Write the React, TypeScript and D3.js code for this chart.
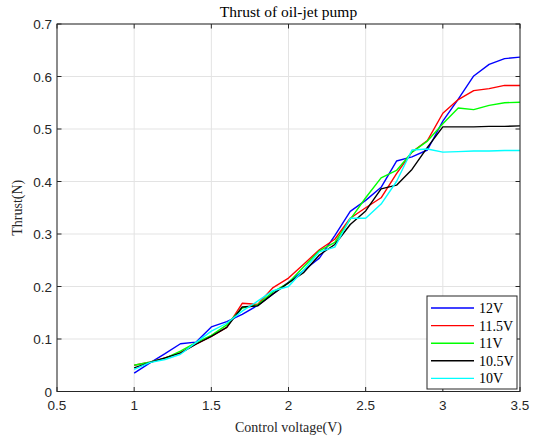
import React from "react";
import * as d3 from "d3";

const xValues = [1.0,1.1,1.2,1.3,1.4,1.5,1.6,1.7,1.8,1.9,2.0,2.1,2.2,2.3,2.4,2.5,2.6,2.7,2.8,2.9,3.0,3.1,3.2,3.3,3.4,3.5];
const seriesNames = ["12V", "11.5V", "11V", "10.5V", "10V"];
const seriesColors = ["#0000ff", "#ff0000", "#00ff00", "#000000", "#00ffff"];
const v12 = [0.035,0.054,0.072,0.091,0.094,0.123,0.133,0.147,0.164,0.186,0.208,0.231,0.254,0.297,0.343,0.364,0.389,0.439,0.447,0.46,0.515,0.557,0.601,0.623,0.634,0.637];
const v115 = [0.05,0.056,0.064,0.074,0.09,0.105,0.122,0.168,0.166,0.198,0.216,0.243,0.27,0.29,0.33,0.35,0.369,0.415,0.456,0.478,0.53,0.556,0.573,0.577,0.583,0.583];
const v11 = [0.05,0.056,0.063,0.077,0.093,0.107,0.127,0.159,0.165,0.19,0.207,0.238,0.268,0.284,0.328,0.369,0.407,0.421,0.456,0.477,0.51,0.54,0.537,0.545,0.55,0.551];
const v105 = [0.045,0.055,0.064,0.073,0.09,0.105,0.122,0.161,0.163,0.186,0.207,0.227,0.26,0.28,0.318,0.344,0.386,0.393,0.423,0.465,0.504,0.504,0.504,0.505,0.505,0.506];
const v10 = [0.042,0.055,0.061,0.071,0.093,0.115,0.13,0.153,0.172,0.192,0.2,0.232,0.266,0.275,0.33,0.33,0.357,0.40,0.46,0.462,0.456,0.457,0.458,0.458,0.459,0.459];
const seriesValues = [v12, v115, v11, v105, v10];
const xTicks = [0.5, 1, 1.5, 2, 2.5, 3, 3.5];
const yTicks = [0, 0.1, 0.2, 0.3, 0.4, 0.5, 0.6, 0.7];
const title = "Thrust of oil-jet pump";
const xLabel = "Control voltage(V)";
const yLabel = "Thrust(N)";

export default function App() {
  const W = 534, H = 437;
  const L = 57, R = 520, T = 24, B = 391.5;
  const x = d3.scaleLinear().domain([0.5, 3.5]).range([L, R]);
  const y = d3.scaleLinear().domain([0, 0.7]).range([B, T]);
  const line = d3.line<number>().x((_, i) => x(xValues[i])).y((d) => y(d));
  const tickColor = "#262626";
  const serif = "'Liberation Serif', 'Times New Roman', serif";
  const sans = "'Liberation Sans', Arial, sans-serif";
  const tl = 4.5;
  const legX = 427, legY = 296, legW = 90, legH = 93;
  return (
    <svg width={W} height={H} style={{ position: "absolute", left: 0, top: 0, background: "#fff" }}>
      <rect x={0} y={0} width={W} height={H} fill="#fff" />
      {xTicks.map((t, i) => (
        <line key={"gx" + i} x1={x(t)} x2={x(t)} y1={T} y2={B} stroke="#e3e3e3" strokeWidth={1} />
      ))}
      {yTicks.map((t, i) => (
        <line key={"gy" + i} x1={L} x2={R} y1={y(t)} y2={y(t)} stroke="#e3e3e3" strokeWidth={1} />
      ))}
      {seriesValues.map((vals, i) => (
        <path key={"s" + i} d={line(vals) || ""} fill="none" stroke={seriesColors[i]} strokeWidth={1.4} strokeLinejoin="round" />
      ))}
      <rect x={L} y={T} width={R - L} height={B - T} fill="none" stroke={tickColor} strokeWidth={1} />
      {xTicks.map((t, i) => (
        <g key={"tx" + i}>
          <line x1={x(t)} x2={x(t)} y1={B} y2={B - tl} stroke={tickColor} />
          <line x1={x(t)} x2={x(t)} y1={T} y2={T + tl} stroke={tickColor} />
          <text x={x(t)} y={B + 18} textAnchor="middle" fontFamily={sans} fontSize={13.5} fill={tickColor}>{d3.format("")(t)}</text>
        </g>
      ))}
      {yTicks.map((t, i) => (
        <g key={"ty" + i}>
          <line x1={L} x2={L + tl} y1={y(t)} y2={y(t)} stroke={tickColor} />
          <line x1={R} x2={R - tl} y1={y(t)} y2={y(t)} stroke={tickColor} />
          <text x={L - 5} y={y(t) + 5} textAnchor="end" fontFamily={sans} fontSize={13.5} fill={tickColor}>{d3.format("")(t)}</text>
        </g>
      ))}
      <text x={(L + R) / 2} y={17} textAnchor="middle" fontFamily={serif} fontSize={15.5} fill="#000">{title}</text>
      <text x={(L + R) / 2} y={432} textAnchor="middle" fontFamily={serif} fontSize={14} fill={tickColor}>{xLabel}</text>
      <text transform={`translate(22, ${(T + B) / 2}) rotate(-90)`} textAnchor="middle" fontFamily={serif} fontSize={14} fill={tickColor}>{yLabel}</text>
      <rect x={legX} y={legY} width={legW} height={legH} fill="#fff" stroke={tickColor} strokeWidth={1} />
      {seriesNames.map((n, i) => {
        const ly = legY + 12 + i * 17.6;
        return (
          <g key={"lg" + i}>
            <line x1={legX + 4} x2={legX + 47} y1={ly} y2={ly} stroke={seriesColors[i]} strokeWidth={1.4} />
            <text x={legX + 52} y={ly + 5} fontFamily={serif} fontSize={14} fill="#000">{n}</text>
          </g>
        );
      })}
    </svg>
  );
}
